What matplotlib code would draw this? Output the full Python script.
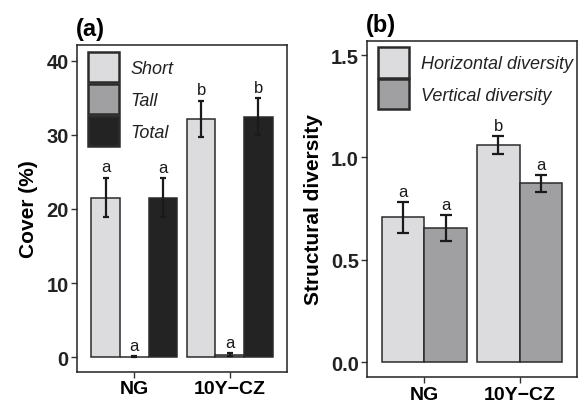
import matplotlib
matplotlib.use("Agg")
import matplotlib.pyplot as plt
import numpy as np
from matplotlib.patches import Patch

plt.rcParams['font.family'] = ['Liberation Sans', 'DejaVu Sans']

groups = ["NG", "10Y\u2212CZ"]

# Panel (a): cover (%)
cover_series = ["Short", "Tall", "Total"]
cover_mean = {"Short": [21.5, 32.15], "Tall": [0.05, 0.3], "Total": [21.5, 32.45]}
cover_se = {"Short": [2.65, 2.45], "Tall": [0.05, 0.2], "Total": [2.6, 2.45]}
cover_letters = {"Short": ["a", "b"], "Tall": ["a", "a"], "Total": ["a", "b"]}

# Panel (b): structural diversity
div_series = ["Horizontal diversity", "Vertical diversity"]
div_mean = {"Horizontal diversity": [0.708, 1.06], "Vertical diversity": [0.657, 0.873]}
div_se = {"Horizontal diversity": [0.075, 0.043], "Vertical diversity": [0.064, 0.041]}
div_letters = {"Horizontal diversity": ["a", "b"], "Vertical diversity": ["a", "a"]}

colors_a = {"Short": "#dcdcde", "Tall": "#a0a0a2", "Total": "#232323"}
colors_b = {"Horizontal diversity": "#dcdcde", "Vertical diversity": "#a0a0a2"}
edge = "#2b2b2b"

fig = plt.figure(figsize=(5.84, 4.10), dpi=100)
axa = fig.add_axes([0.1318, 0.0902, 0.3596, 0.7976])
axb = fig.add_axes([0.629, 0.0773, 0.3585, 0.821])


def draw(ax, series, means, ses, letters, colors, ylim, yticks, yticklabels, ylabel,
         letter_off, title, capsize, leg_anchor):
    n = len(series)
    width = 0.9 / n
    x = np.arange(1, len(groups) + 1)
    for i, s in enumerate(series):
        pos = x - 0.45 + width * (i + 0.5)
        ax.bar(pos, means[s], width=width, color=colors[s], edgecolor=edge, linewidth=1.1, zorder=2)
        ax.errorbar(pos, means[s], yerr=ses[s], fmt='none', ecolor="#1a1a1a", elinewidth=1.6,
                    capsize=capsize, capthick=1.6, zorder=3)
        for p, m, e, l in zip(pos, means[s], ses[s], letters[s]):
            ax.text(p, m + e + letter_off, l, ha='center', va='bottom', fontsize=12, color="#1a1a1a")
    ax.set_xlim(0.4, 2.6)
    ax.set_ylim(*ylim)
    ax.set_xticks(x)
    ax.set_xticklabels(groups, fontsize=14, fontweight='bold')
    ax.set_yticks(yticks)
    ax.set_yticklabels(yticklabels, fontsize=14.5, fontweight='bold', color="#222222")
    ax.set_ylabel(ylabel, fontsize=15, fontweight='bold', labelpad=6)
    ax.tick_params(direction='out', length=4, width=1, color="#333333", pad=2)
    for sp in ax.spines.values():
        sp.set_linewidth(1.1)
        sp.set_color("#222222")
    ax.set_title(title, loc='left', fontsize=17, fontweight='bold', x=-0.005, pad=7)
    handles = [Patch(facecolor=colors[s], edgecolor=edge, linewidth=1.8, label=s) for s in series]
    leg = ax.legend(handles=handles, loc='upper left', bbox_to_anchor=leg_anchor, frameon=False,
                    handlelength=1.72, handleheight=2.19, labelspacing=0.1, handletextpad=0.65,
                    borderaxespad=0.0, borderpad=0.0,
                    prop={'style': 'italic', 'size': 13})
    for t in leg.get_texts():
        t.set_color("#222222")


draw(axa, cover_series, cover_mean, cover_se, cover_letters, colors_a,
     (-2.0, 42.1), [0, 10, 20, 30, 40], ["0", "10", "20", "30", "40"], "Cover (%)", 0.5, "(a)",
     2.5, (0.051, 0.978))
draw(axb, div_series, div_mean, div_se, div_letters, colors_b,
     (-0.073, 1.57), [0.0, 0.5, 1.0, 1.5], ["0.0", "0.5", "1.0", "1.5"], "Structural diversity", 0.015, "(b)",
     4.3, (0.05, 0.980))

fig.savefig("out.png", dpi=100)
